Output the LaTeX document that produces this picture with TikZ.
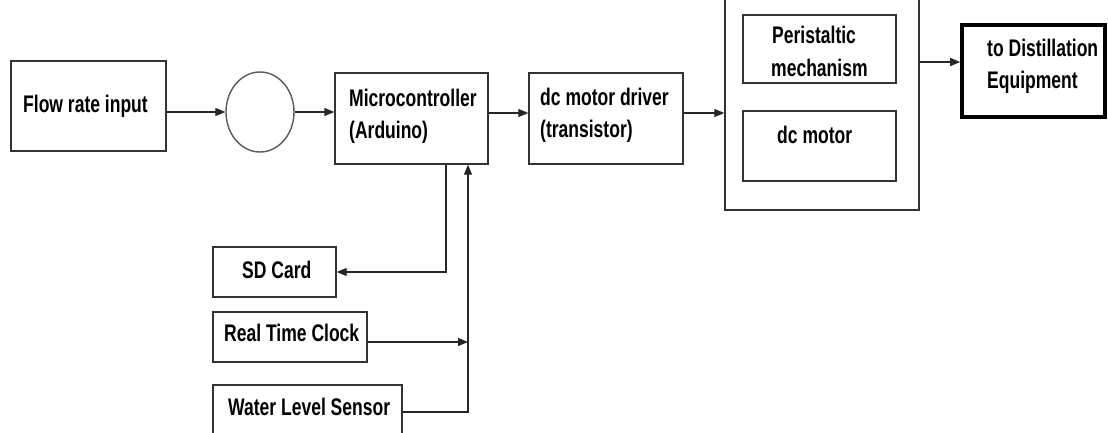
\documentclass[tikz,border=0pt]{standalone}
\usepackage{fontspec}
\newfontfamily\lab{Liberation Sans}[FakeStretch=0.73]
\usetikzlibrary{arrows.meta,shapes.geometric}
\tikzset{
  box/.style={draw=black!80, line width=1.4pt, rectangle, inner sep=0pt},
  thickbox/.style={draw=black, line width=3.6pt, rectangle, inner sep=0pt},
  ring/.style={draw=black!65, line width=1.4pt, ellipse, inner sep=0pt, minimum width=68pt, minimum height=80pt},
  arr/.style={draw=black!85, line width=1.3pt, -{Triangle[length=10pt,width=8pt]}},
  ln/.style={draw=black!85, line width=1.3pt},
  txt/.style={anchor=base west, inner sep=0pt, font=\lab\bfseries\fontsize{24}{32}\selectfont}
}
\begin{document}
\begin{tikzpicture}[x=1pt,y=-1pt]
\clip (0,0) rectangle (1108,432);
\fill[white] (0,0) rectangle (1108,432);
% boxes
\node[box, minimum width=155pt, minimum height=90pt] (flow) at (88.5,106) {};
\node[ring] (circ) at (260,112) {};
\node[box, minimum width=153pt, minimum height=91pt] (micro) at (411.5,118.5) {};
\node[box, minimum width=154pt, minimum height=91pt] (driver) at (606,118.5) {};
\node[box, minimum width=194pt, minimum height=240pt] (big) at (822,90) {};
\node[box, minimum width=153pt, minimum height=68pt] (peri) at (819.5,49) {};
\node[box, minimum width=153pt, minimum height=70pt] (motor) at (819.5,146) {};
\node[thickbox, minimum width=143pt, minimum height=92pt] (dist) at (1033.5,71) {};
\node[box, minimum width=123pt, minimum height=50pt] (sd) at (274.5,272) {};
\node[box, minimum width=154pt, minimum height=50pt] (rtc) at (290,337) {};
\node[box, minimum width=189pt, minimum height=65pt] (wls) at (307.5,417.5) {};
% texts
\node[txt] (tflow) at (23,112) {Flow rate input};
\node[txt] (tmicroa) at (349,106) {Microcontroller};
\node[txt] (tmicrob) at (349,138) {(Arduino)};
\node[txt] (tdrva) at (540,105) {dc motor driver};
\node[txt] (tdrvb) at (540,137) {(transistor)};
\node[txt] (tperia) at (772,43) {Peristaltic};
\node[txt] (tperib) at (771,76) {mechanism};
\node[txt] (tmotor) at (777,143) {dc motor};
\node[txt] (tdista) at (987,56) {to Distillation};
\node[txt] (tdistb) at (987,88) {Equipment};
\node[txt] (tsd) at (242,278) {SD Card};
\node[txt] (trtc) at (224,341) {Real Time Clock};
\node[txt] (twls) at (228,415) {Water Level Sensor};
% connectors
\coordinate (mo) at ([xshift=34.5pt]micro.south);
\coordinate (mi) at ([xshift=56.5pt]micro.south);
\draw[arr] (flow.east |- circ) -- (circ.west);
\draw[arr] (circ.east) -- (circ.east -| micro.west);
\draw[arr] ([yshift=5.5pt]micro.east) -- ([yshift=5.5pt]driver.west);
\draw[arr] ([yshift=5.5pt]driver.east) -- ([yshift=5.5pt]driver.east -| big.west);
\draw[arr] ([yshift=9pt]dist.west -| big.east) -- ([yshift=9pt]dist.west);
\draw[arr] (mo) |- (sd.east);
\draw[arr] ([yshift=5.5pt]wls.east) -| (mi);
\draw[arr] ([yshift=-5pt]rtc.east) -- ([yshift=-5pt]rtc.east -| mi);
\end{tikzpicture}
\end{document}
